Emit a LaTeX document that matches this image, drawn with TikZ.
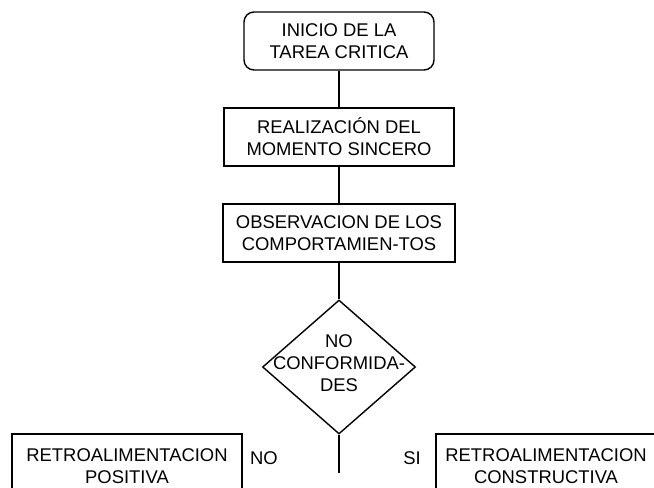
\documentclass[tikz,border=0pt]{standalone}
\usepackage{fontspec}
\setmainfont{Liberation Sans}
\usetikzlibrary{shapes.geometric,positioning}

\begin{document}
\begin{tikzpicture}[
    every node/.style={font=\fontsize{13.1}{15.7}\selectfont, align=center},
    flowbox/.style={rectangle, draw, line width=1pt, minimum height=1.45cm, inner sep=0pt},
    decision/.style={diamond, draw, line width=1pt, minimum width=3.825cm, minimum height=3.35cm, inner sep=0pt},
    flowline/.style={draw, line width=1pt}
]
    \useasboundingbox (0,0) rectangle (16.35,12.175);

    % Main sequence of steps
    \node[flowbox, rounded corners=0.25cm, minimum width=4.75cm] (inicio) at (8.475,11.15) {INICIO DE LA\\TAREA CRITICA};
    \node[flowbox, minimum width=5.75cm] (momento) at (8.475,8.75) {REALIZACIÓN DEL\\MOMENTO SINCERO};
    \node[flowbox, minimum width=5.8cm] (observ) at (8.475,6.35) {OBSERVACION DE LOS\\COMPORTAMIEN-TOS};

    % Decision
    \node[decision] (confor) at (8.475,3.0) {};
    \node (confortxt) at (8.475,3.1) {NO\\CONFORMIDA-\\DES};
    \coordinate (fin) at (8.475,0.35);

    % Outcomes
    \node[flowbox, minimum width=5.75cm, minimum height=1.6cm] (positiva) at (3.175,0.525) {RETROALIMENTACION\\POSITIVA};
    \node[flowbox, minimum width=5.5cm, minimum height=1.6cm] (constr) at (13.65,0.525) {RETROALIMENTACION\\CONSTRUCTIVA};
    \node (no) at (6.6,0.725) {NO};
    \node (si) at (10.3,0.725) {SI};

    % Connectors
    \path[flowline] (inicio) -- (momento);
    \path[flowline] (momento) -- (observ);
    \path[flowline] (observ) -- (confor);
    \path[flowline] (confor) -- (fin);
\end{tikzpicture}
\end{document}
